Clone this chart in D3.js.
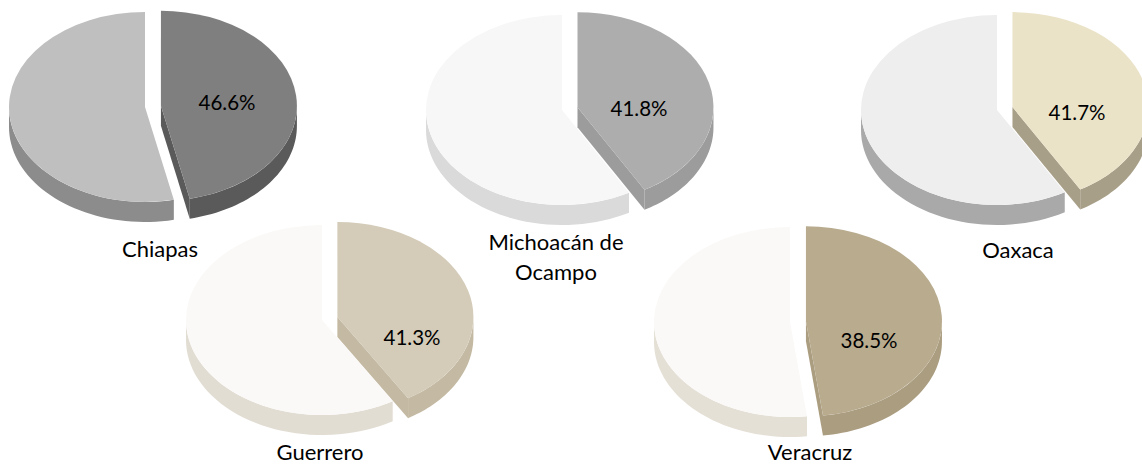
<!DOCTYPE html>
<html lang="es">
<head>
<meta charset="utf-8">
<title>Entidades</title>
<script src="https://d3js.org/d3.v7.min.js"></script>
<style>
body { margin: 0; background: #fff; }
svg { display: block; }
text { font-family: Lato, "Open Sans", sans-serif; fill: #000; }
</style>
</head>
<body>
<svg></svg>
<script>
var estados = ['Chiapas', 'Michoacán de Ocampo', 'Oaxaca', 'Guerrero', 'Veracruz'];
var porcentaje = [46.6, 41.8, 41.7, 41.3, 38.5];
var resto = [53.4, 58.2, 58.3, 58.7, 41.7];

// colours: [slice, rest] for the top face and for the walls
var topColors = [['#7f7f7f', '#bfbfbf'], ['#adadad', '#f7f7f7'], ['#ebe3c8', '#eeeeee'], ['#d4cbb8', '#faf9f7'], ['#b8ab8e', '#faf9f7']];
var sideColors = [['#5a5a5a', '#8c8c8c'], ['#9c9c9c', '#dadada'], ['#a89f88', '#a9a9a9'], ['#c4b9a2', '#e2ddd3'], ['#ab9d80', '#e5e0d6']];

// where each pie sits, and its two labels
var layout = [
  {cx: 145, cy: 107, lx: 160, ly: 257, px: 227, py: 110},
  {cx: 562, cy: 110, lx: 556, ly: 250, px: 639, py: 116},
  {cx: 997, cy: 110, lx: 1018, ly: 258, px: 1077, py: 120},
  {cx: 322, cy: 320, lx: 320, ly: 460, px: 412, py: 345},
  {cx: 790, cy: 322, lx: 810, ly: 460, px: 869, py: 348}
];

var width = 1142, height = 465;
var rx = 136, ry = 95, depth = 20, explode = 16;
var k = ry / rx;

var svg = d3.select('svg')
  .attr('width', width)
  .attr('height', height);

var pie = d3.pie().sort(null);
var arc = d3.arc().innerRadius(0).outerRadius(rx);
var line = d3.line();
var fmt = d3.format('.1f');

function rim(a, dy) {
  return [rx * Math.sin(a), -ry * Math.cos(a) + dy];
}

// front part of the outer wall between two angles
function wall(a0, a1) {
  a0 = Math.max(a0, Math.PI / 2);
  a1 = Math.min(a1, Math.PI * 1.5);
  if (a1 <= a0) return null;
  var steps = d3.range(41).map(t => a0 + (a1 - a0) * t / 40);
  var pts = steps.map(a => rim(a, 0))
    .concat(steps.slice().reverse().map(a => rim(a, depth)));
  return line(pts) + 'Z';
}

// cut face along one radius
function face(a) {
  return line([[0, 0], rim(a, 0), rim(a, depth), [0, depth]]) + 'Z';
}

estados.forEach((name, i) => {
  var L = layout[i];
  var arcs = pie([porcentaje[i], resto[i]]);

  var g = svg.append('g');

  var slices = arcs.map((d, j) => {
    var mid = (d.startAngle + d.endAngle) / 2;
    var off = j === 0 ? explode : 0;
    return {
      d: d, j: j,
      x: L.cx + off * Math.sin(mid),
      y: L.cy - off * Math.cos(mid) * k
    };
  });

  // walls first, rest slice behind
  slices.slice().reverse().forEach(s => {
    var sg = g.append('g').attr('transform', `translate(${s.x},${s.y})`);
    var w = wall(s.d.startAngle, s.d.endAngle);
    if (w) sg.append('path').attr('d', w).attr('fill', sideColors[i][s.j]);
    if (Math.sin(s.d.endAngle) > 1e-6)
      sg.append('path').attr('d', face(s.d.endAngle)).attr('fill', sideColors[i][s.j]);
    if (Math.sin(s.d.startAngle) < -1e-6)
      sg.append('path').attr('d', face(s.d.startAngle)).attr('fill', sideColors[i][s.j]);
  });

  slices.slice().reverse().forEach(s => {
    g.append('path')
      .attr('transform', `translate(${s.x},${s.y}) scale(1,${k})`)
      .attr('d', arc(s.d))
      .attr('fill', topColors[i][s.j]);
  });

  g.append('text')
    .attr('x', L.px)
    .attr('y', L.py)
    .attr('text-anchor', 'middle')
    .attr('font-size', 20.5)
    .text(fmt(porcentaje[i]) + '%');

  var words = name.split(' ');
  var lines = name.length > 12 ? [words.slice(0, -1).join(' '), words[words.length - 1]] : [name];
  var t = g.append('text')
    .attr('text-anchor', 'middle')
    .attr('font-size', 22);
  lines.forEach((s, n) => {
    t.append('tspan')
      .attr('x', L.lx)
      .attr('y', L.ly + n * 30)
      .text(s);
  });
});
</script>
</body>
</html>
